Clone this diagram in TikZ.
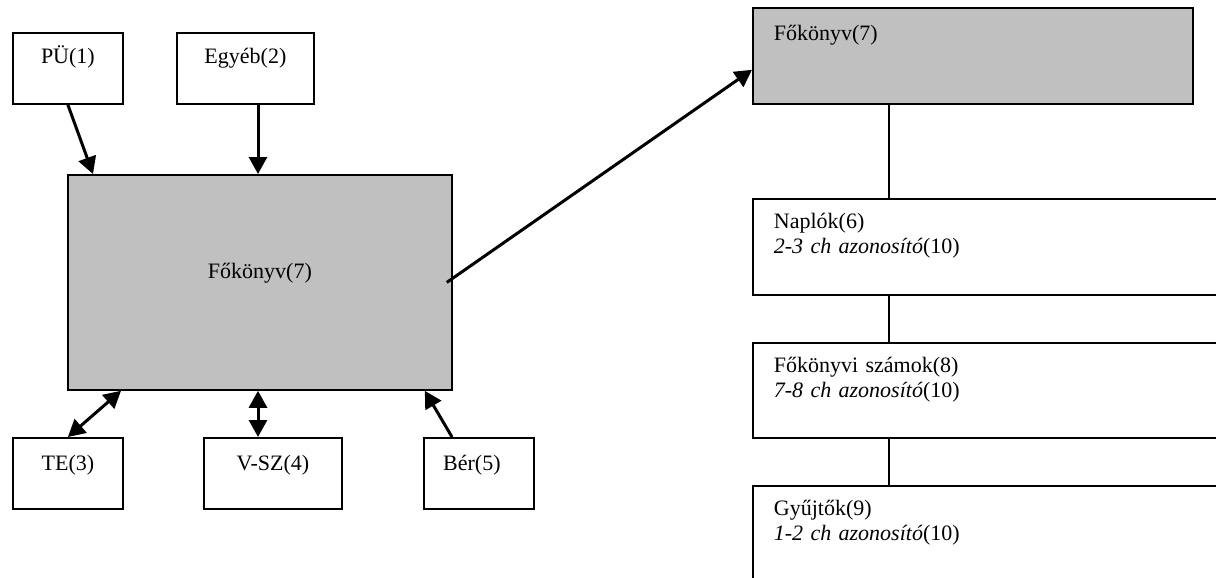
\documentclass[tikz,border=0pt]{standalone}
\usepackage{fontspec}
\setmainfont{Liberation Serif}
\usetikzlibrary{arrows.meta,calc}
\definecolor{boxgray}{RGB}{192,192,192}
\tikzset{
  box/.style={draw, line width=0.9pt, inner sep=0pt, anchor=north west,
    font=\fontsize{11}{12.5}\selectfont},
  cbox/.style={box, minimum width=#1, text height=15.5pt, text depth=20pt},
  lbox/.style={box, fill=white, text width=#1, inner xsep=10.5pt, align=left, text height=15pt},
  tip/.style={Triangle[length=8.5pt,width=9pt]},
  arr/.style={line width=1.5pt, -{Triangle[length=8.5pt,width=9pt]}},
  darr/.style={line width=1.5pt, {Triangle[length=8.5pt,width=9pt]}-{Triangle[length=8.5pt,width=9pt]}},
  conn/.style={line width=0.7pt}
}
\begin{document}
\begin{tikzpicture}[x=0.5pt,y=-0.5pt]
\useasboundingbox (0,0) rectangle (1216,578);
\clip (0,0) rectangle (1216,578);
% left cluster
\node[cbox=55pt] (pu) at (12,32) {PÜ(1)};
\node[cbox=68.5pt] (eg) at (176,32) {Egyéb(2)};
\node[box, fill=boxgray, minimum width=192pt, text height=52pt, text depth=55.5pt] (fk) at (67,174) {Főkönyv(7)};
\node[cbox=55pt, text height=16.5pt, text depth=19pt] (te) at (12,437) {TE(3)};
\node[cbox=69pt, text height=16.5pt, text depth=19pt] (vsz) at (203,437) {V-SZ(4)};
\node[cbox=55pt, text height=16.5pt, text depth=19pt] (ber) at (423,437) {Bér(5)\hspace*{7pt}};
% right hierarchy
\node[lbox=199pt, fill=boxgray, text height=16.5pt, text depth=31.5pt] (fk2) at (752,7) {Főkönyv(7)};
\node[lbox=223pt, text depth=33pt] (nap) at (752,198) {Naplók(6)\\\textit{2-3 ch azonosító}(10)};
\node[lbox=223pt, text depth=32.5pt] (fsz) at (752,342) {Főkönyvi számok(8)\\\textit{7-8 ch azonosító}(10)};
\node[lbox=223pt, text depth=40pt] (gy) at (752,485) {Gyűjtők(9)\\\textit{1-2 ch azonosító}(10)};
% arrows
\draw[arr] (pu.south) -- ($(fk.north west)+(26,0)$);
\draw[arr] ($(eg.south west)+(82,0)$) -- ($(fk.north west)+(191,0)$);
\draw[darr] (te.north) -- ($(fk.south west)+(54,0)$);
\draw[darr] ($(vsz.north west)+(55,0)$) -- ($(fk.south west)+(191,0)$);
\draw[arr] ($(ber.north west)+(29,0)$) -- ($(fk.south east)+(-28,0)$);
\draw[arr] ($(fk.east)+(-6,0)$) -- ($(fk2.south west)+(0,-35)$);
% connectors
\draw[conn] ($(fk2.south west)+(137,0)$) -- ($(nap.north west)+(137,0)$);
\draw[conn] ($(nap.south west)+(137,0)$) -- ($(fsz.north west)+(137,0)$);
\draw[conn] ($(fsz.south west)+(137,0)$) -- ($(gy.north west)+(137,0)$);
\end{tikzpicture}
\end{document}
